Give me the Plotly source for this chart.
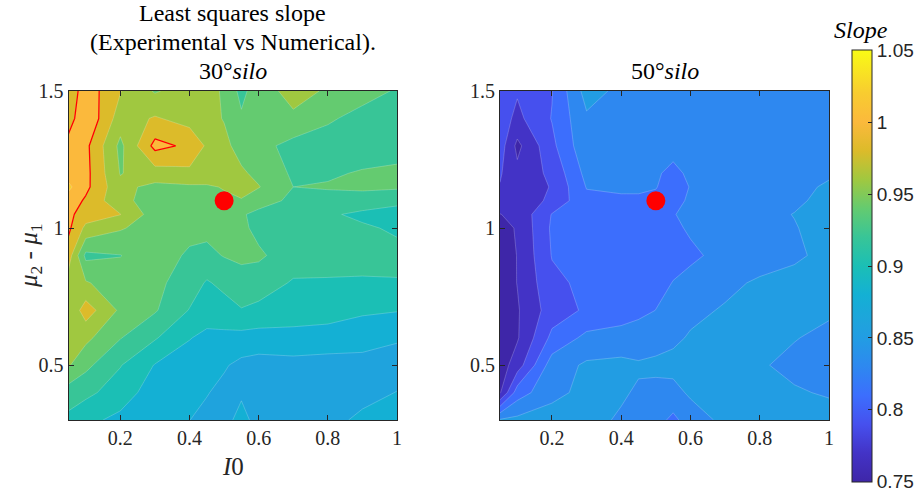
import plotly.graph_objects as go

# ---------------- data ----------------
x_i0 = [0.05, 0.1, 0.2, 0.3, 0.4, 0.45, 0.5, 0.55, 0.6, 0.7, 0.8, 0.9, 1.0]
y_mu = [1.5, 1.4, 1.3, 1.2, 1.15, 1.1, 1.05, 1.0, 0.9, 0.8, 0.7, 0.6, 0.5, 0.4, 0.3]

slope_30 = [
    [0.985, 1.012, 0.981, 0.958, 0.970, 0.968, 0.957, 0.934, 0.952, 0.966, 0.958, 0.948, 0.938],
    [0.990, 1.018, 0.970, 0.982, 0.972, 0.966, 0.959, 0.943, 0.952, 0.957, 0.943, 0.933, 0.930],
    [1.008, 1.005, 0.955, 1.006, 0.996, 0.977, 0.965, 0.9525, 0.947, 0.933, 0.930, 0.928, 0.930],
    [1.012, 1.006, 0.959, 0.971, 0.975, 0.970, 0.966, 0.963, 0.955, 0.937, 0.937, 0.942, 0.945],
    [1.024, 1.005, 0.965, 0.955, 0.957, 0.958, 0.961, 0.965, 0.961, 0.940, 0.942, 0.945, 0.943],
    [1.012, 0.997, 0.965, 0.952, 0.953, 0.955, 0.957, 0.959, 0.948, 0.936, 0.932, 0.928, 0.925],
    [1.005, 0.990, 0.9805, 0.950, 0.948, 0.947, 0.946, 0.942, 0.935, 0.930, 0.922, 0.917, 0.912],
    [1.004, 0.975, 0.962, 0.950, 0.946, 0.945, 0.947, 0.944, 0.935, 0.932, 0.924, 0.922, 0.918],
    [0.990, 0.935, 0.9395, 0.950, 0.937, 0.935, 0.941, 0.945, 0.943, 0.930, 0.928, 0.926, 0.924],
    [0.970, 0.962, 0.948, 0.945, 0.930, 0.918, 0.925, 0.930, 0.930, 0.918, 0.918, 0.918, 0.919],
    [0.962, 0.990, 0.9564, 0.942, 0.919, 0.910, 0.912, 0.919, 0.915, 0.912, 0.910, 0.903, 0.901],
    [0.962, 0.965, 0.941, 0.922, 0.901, 0.895, 0.895, 0.893, 0.892, 0.892, 0.890, 0.888, 0.882],
    [0.962, 0.945, 0.921, 0.899, 0.890, 0.888, 0.882, 0.875, 0.872, 0.874, 0.873, 0.873, 0.872],
    [0.930, 0.925, 0.910, 0.890, 0.885, 0.881, 0.875, 0.877, 0.870, 0.872, 0.871, 0.874, 0.8805],
    [0.915, 0.905, 0.895, 0.890, 0.8802, 0.875, 0.873, 0.887, 0.872, 0.871, 0.874, 0.884, 0.887],
]

slope_50 = [
    [0.795, 0.792, 0.809, 0.858, 0.845, 0.845, 0.844, 0.843, 0.842, 0.840, 0.840, 0.840, 0.842],
    [0.800, 0.785, 0.811, 0.847, 0.845, 0.844, 0.843, 0.842, 0.842, 0.841, 0.840, 0.840, 0.841],
    [0.800, 0.765, 0.805, 0.845, 0.844, 0.843, 0.842, 0.841, 0.841, 0.840, 0.840, 0.840, 0.840],
    [0.792, 0.775, 0.795, 0.836, 0.840, 0.838, 0.834, 0.822, 0.836, 0.840, 0.842, 0.844, 0.848],
    [0.789, 0.780, 0.791, 0.831, 0.833, 0.832, 0.831, 0.820, 0.831, 0.840, 0.842, 0.846, 0.852],
    [0.782, 0.775, 0.795, 0.825, 0.827, 0.828, 0.825, 0.822, 0.834, 0.840, 0.843, 0.847, 0.855],
    [0.7695, 0.775, 0.811, 0.820, 0.824, 0.825, 0.824, 0.829, 0.835, 0.840, 0.845, 0.8505, 0.858],
    [0.762, 0.772, 0.813, 0.820, 0.822, 0.823, 0.823, 0.827, 0.832, 0.840, 0.845, 0.849, 0.857],
    [0.760, 0.7705, 0.811, 0.818, 0.820, 0.822, 0.822, 0.825, 0.827, 0.835, 0.840, 0.847, 0.855],
    [0.758, 0.7705, 0.805, 0.815, 0.820, 0.822, 0.825, 0.8305, 0.835, 0.845, 0.853, 0.856, 0.858],
    [0.755, 0.768, 0.800, 0.813, 0.820, 0.825, 0.8302, 0.835, 0.845, 0.852, 0.857, 0.860, 0.853],
    [0.752, 0.768, 0.815, 0.835, 0.838, 0.840, 0.842, 0.846, 0.852, 0.858, 0.860, 0.851, 0.845],
    [0.760, 0.780, 0.840, 0.853, 0.855, 0.852, 0.854, 0.856, 0.858, 0.860, 0.852, 0.845, 0.840],
    [0.768, 0.820, 0.845, 0.855, 0.852, 0.848, 0.845, 0.844, 0.853, 0.858, 0.855, 0.852, 0.848],
    [0.852, 0.855, 0.858, 0.855, 0.848, 0.842, 0.838, 0.825, 0.840, 0.855, 0.858, 0.860, 0.858],
]

ref_x = [0.5]
ref_y = [1.1]
red_level = 1.0

x_ticks = [0.2, 0.4, 0.6, 0.8, 1.0]
x_tick_text = ["0.2", "0.4", "0.6", "0.8", "1"]
y_ticks = [0.5, 1.0, 1.5]
y_tick_text = ["0.5", "1", "1.5"]
cb_ticks = [0.75, 0.8, 0.85, 0.9, 0.95, 1.0, 1.05]
cb_tick_text = ["0.75", "0.8", "0.85", "0.9", "0.95", "1", "1.05"]
clim = [0.75, 1.05]

# ---------------- styles ----------------
par_vals = [0.75, 0.77, 0.79, 0.81, 0.83, 0.85, 0.86, 0.88, 0.90, 0.92, 0.94,
            0.96, 0.98, 1.00, 1.02, 1.05]
par_cols = ['#3E26A8', '#4333C6', '#4650EE', '#3C6EFD', '#2E88F0', '#229DE3',
            '#1FA3DD', '#14B0D4', '#1BBFB5', '#38C597', '#64CB70', '#A0C840',
            '#DCBB2A', '#FBB93C', '#F8CC30', '#F9FB15']


def hex2rgb(h):
    h = h.lstrip('#')
    return [int(h[i:i + 2], 16) for i in (0, 2, 4)]


def parula_at(v):
    v = min(max(v, par_vals[0]), par_vals[-1])
    for i in range(len(par_vals) - 1):
        a, b = par_vals[i], par_vals[i + 1]
        if a <= v <= b:
            t = 0 if b == a else (v - a) / (b - a)
            c1, c2 = hex2rgb(par_cols[i]), hex2rgb(par_cols[i + 1])
            c = [round(c1[k] + t * (c2[k] - c1[k])) for k in range(3)]
            return 'rgb(%d,%d,%d)' % tuple(c)
    return par_cols[-1]


def band_scale(start, end, size):
    # plotly colours the band above level L with the scale at L + size/2,
    # the scale spanning [start - size/2, end + size/2]; MATLAB uses colour(L).
    n = int(round((end - start) / size)) + 1
    return [[k / n, parula_at(start + (k - 1) * size)] for k in range(n + 1)]


cont_scale = [[(v - clim[0]) / (clim[1] - clim[0]), c] for v, c in zip(par_vals, par_cols)]

axis_col = '#262626'
serif = 'Liberation Serif'
sans = 'Liberation Sans'
W, H = 917, 493


def px_x(p):
    return p / W


def px_y(p):
    return 1 - p / H


fig = go.Figure()

L_start, L_end, L_size = 0.86, 1.02, 0.02
R_start, R_end, R_size = 0.77, 0.85, 0.02

fig.add_trace(go.Contour(
    x=x_i0, y=y_mu, z=slope_30, xaxis='x', yaxis='y',
    contours=dict(start=L_start, end=L_end, size=L_size, coloring='fill'),
    colorscale=band_scale(L_start, L_end, L_size), showscale=False,
    line=dict(width=0.6, color='rgba(255,255,255,0.35)', smoothing=0),
    hoverinfo='skip'))

fig.add_trace(go.Contour(
    x=x_i0, y=y_mu, z=slope_30, xaxis='x', yaxis='y',
    contours=dict(start=red_level, end=red_level, size=0.02, coloring='none'),
    line=dict(width=1.3, color='red', smoothing=0), showscale=False,
    hoverinfo='skip'))

fig.add_trace(go.Contour(
    x=x_i0, y=y_mu, z=slope_50, xaxis='x2', yaxis='y2',
    contours=dict(start=R_start, end=R_end, size=R_size, coloring='fill'),
    colorscale=band_scale(R_start, R_end, R_size), showscale=False,
    line=dict(width=0.6, color='rgba(255,255,255,0.35)', smoothing=0),
    hoverinfo='skip'))

for xa, ya in (('x', 'y'), ('x2', 'y2')):
    fig.add_trace(go.Scatter(
        x=ref_x, y=ref_y, xaxis=xa, yaxis=ya, mode='markers',
        marker=dict(size=19, color='#FF0000', line=dict(width=0)),
        hoverinfo='skip'))

# colour bar (continuous, like MATLAB)
fig.add_trace(go.Scatter(
    x=[None], y=[None], xaxis='x', yaxis='y', mode='markers',
    marker=dict(color=[clim[0]], colorscale=cont_scale,
                cmin=clim[0] - 0.0002, cmax=clim[1] + 0.0002,
                showscale=True,
                colorbar=dict(thickness=20, thicknessmode='pixels',
                              len=432, lenmode='pixels',
                              x=px_x(852), xanchor='left', xpad=0,
                              y=px_y(266), yanchor='middle', ypad=0,
                              outlinewidth=1, outlinecolor=axis_col,
                              tickvals=cb_ticks, ticktext=cb_tick_text,
                              ticks='inside', ticklen=4, tickcolor=axis_col,
                              tickfont=dict(family=sans, size=19, color=axis_col))),
    hoverinfo='skip'))

ax_common = dict(ticks='inside', ticklen=5, tickcolor=axis_col, tickwidth=1,
                 showline=True, linecolor=axis_col, linewidth=1, mirror='ticks',
                 showgrid=False, zeroline=False,
                 tickfont=dict(family=serif, size=20, color=axis_col))

y_dom = [px_y(420), px_y(91)]
fig.update_layout(
    width=W, height=H, margin=dict(l=0, r=0, t=0, b=0, autoexpand=False),
    font=dict(family=serif, color=axis_col),
    paper_bgcolor='white', plot_bgcolor='white', showlegend=False,
    xaxis=dict(domain=[px_x(68.5), px_x(397)], range=[0.05, 1.0], anchor='y',
               tickvals=x_ticks, ticktext=x_tick_text, **ax_common),
    yaxis=dict(domain=y_dom, range=[0.3, 1.5], anchor='x',
               tickvals=y_ticks, ticktext=y_tick_text, **ax_common),
    xaxis2=dict(domain=[px_x(500), px_x(829)], range=[0.05, 1.0], anchor='y2',
                tickvals=x_ticks, ticktext=x_tick_text, **ax_common),
    yaxis2=dict(domain=y_dom, range=[0.3, 1.5], anchor='x2',
                tickvals=y_ticks, ticktext=y_tick_text, **ax_common),
)

title_font = dict(family=serif, size=24, color='black')
ann = []
for txt, yc in (("Least squares slope", 13), ("(Experimental vs Numerical).", 42),
                ("30°<i>silo</i>", 71)):
    ann.append(dict(text=txt, x=px_x(232.75), y=px_y(yc), xref='paper', yref='paper',
                    xanchor='center', yanchor='middle', showarrow=False, font=title_font))
ann.append(dict(text="50°<i>silo</i>", x=px_x(664.5), y=px_y(71), xref='paper', yref='paper',
                xanchor='center', yanchor='middle', showarrow=False, font=title_font))
ann.append(dict(text="<i>I</i>0", x=px_x(232.75), y=px_y(466), xref='paper', yref='paper',
                xanchor='center', yanchor='middle', showarrow=False,
                font=dict(family=serif, size=25, color=axis_col)))
ann.append(dict(text="<i>μ</i><sub>2</sub> - <i>μ</i><sub>1</sub>", x=px_x(30), y=px_y(256),
                xref='paper', yref='paper', xanchor='center', yanchor='middle',
                textangle=-90, showarrow=False,
                font=dict(family=serif, size=25, color=axis_col)))
ann.append(dict(text="<i>Slope</i>", x=px_x(861), y=px_y(30), xref='paper', yref='paper',
                xanchor='center', yanchor='middle', showarrow=False,
                font=dict(family=serif, size=24, color='black')))
fig.update_layout(annotations=ann)

fig.write_html("out.html")
